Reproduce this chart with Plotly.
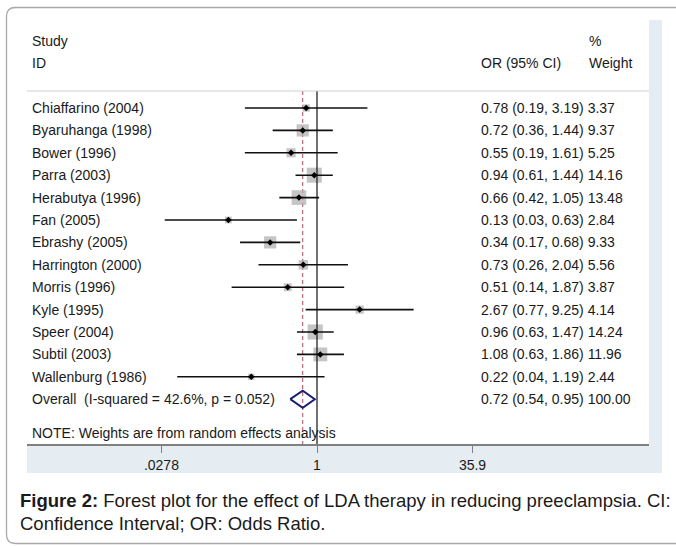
import math
import plotly.graph_objects as go

# ---- data -------------------------------------------------------------
studies = ["Chiaffarino (2004)", "Byaruhanga (1998)", "Bower (1996)", "Parra (2003)",
           "Herabutya (1996)", "Fan (2005)", "Ebrashy (2005)", "Harrington (2000)",
           "Morris (1996)", "Kyle (1995)", "Speer (2004)", "Subtil (2003)",
           "Wallenburg (1986)"]
odds_ratio = [0.78, 0.72, 0.55, 0.94, 0.66, 0.13, 0.34, 0.73, 0.51, 2.67, 0.96, 1.08, 0.22]
ci_low = [0.19, 0.36, 0.19, 0.61, 0.42, 0.03, 0.17, 0.26, 0.14, 0.77, 0.63, 0.63, 0.04]
ci_high = [3.19, 1.44, 1.61, 1.44, 1.05, 0.63, 0.68, 2.04, 1.87, 9.25, 1.47, 1.86, 1.19]
weights = [3.37, 9.37, 5.25, 14.16, 13.48, 2.84, 9.33, 5.56, 3.87, 4.14, 14.24, 11.96, 2.44]

overall_label = "Overall  (I-squared = 42.6%, p = 0.052)"
overall_or = 0.72
overall_low = 0.54
overall_high = 0.95
overall_weight = 100.00

tick_values = [0.0278, 1, 35.9]
tick_labels = [".0278", "1", "35.9"]

note_text = "NOTE: Weights are from random effects analysis"
caption_1 = "<b>Figure 2:</b> Forest plot for the effect of LDA therapy in reducing preeclampsia. CI:"
caption_2 = "Confidence Interval; OR: Odds Ratio."

# ---- layout geometry (pixels) ----------------------------------------
W, H = 676, 546
L, R, T, B = 27, 649, 20, 444
ROW0, ROW_STEP = 108, 22.4


def px(x):
    return (x - L) / (R - L)


def py(y):
    return (B - y) / (B - T)


def row_of(y):
    return (y - ROW0) / ROW_STEP


rows = list(range(len(studies)))
overall_row = len(studies)
sep_row = row_of(91)
bottom_row = row_of(B)
top_row = row_of(T)

FONT = "Liberation Sans, Arial, Helvetica, sans-serif"
TXT = "#1a1a1a"

fig = go.Figure()

# pooled-estimate reference line (dashed)
fig.add_trace(go.Scatter(x=[overall_or, overall_or], y=[sep_row, bottom_row], mode="lines",
                         line=dict(color="#b04a5c", width=1, dash="4px,3px"),
                         hoverinfo="skip", showlegend=False))

# weight boxes: area proportional to weight
fig.add_trace(go.Scatter(x=odds_ratio, y=rows, mode="markers",
                         marker=dict(symbol="square", color="#adadad",
                                     size=[4.0 * math.sqrt(w) for w in weights],
                                     line=dict(width=0)),
                         hoverinfo="skip", showlegend=False))

# line of no effect
fig.add_trace(go.Scatter(x=[1, 1], y=[sep_row, bottom_row], mode="lines",
                         line=dict(color="#111111", width=1.2),
                         hoverinfo="skip", showlegend=False))

# confidence intervals
ci_x, ci_y = [], []
for lo, hi, r in zip(ci_low, ci_high, rows):
    ci_x += [lo, hi, None]
    ci_y += [r, r, None]
fig.add_trace(go.Scatter(x=ci_x, y=ci_y, mode="lines",
                         line=dict(color="#111111", width=1.6),
                         hoverinfo="skip", showlegend=False))

# point estimates
fig.add_trace(go.Scatter(x=odds_ratio, y=rows, mode="markers",
                         marker=dict(symbol="diamond", color="#000000", size=5),
                         hoverinfo="skip", showlegend=False))

# overall diamond
dh = 0.38
fig.add_trace(go.Scatter(x=[overall_low, overall_or, overall_high, overall_or, overall_low],
                         y=[overall_row, overall_row - dh, overall_row, overall_row + dh, overall_row],
                         mode="lines", line=dict(color="#1b1f72", width=2),
                         hoverinfo="skip", showlegend=False))

# ---- text columns -----------------------------------------------------
ann = []


def text(x, y, s, yref="y", size=14, anchor="left"):
    ann.append(dict(x=x, y=y, xref="paper", yref=yref, text=s, showarrow=False,
                    xanchor=anchor, yanchor="middle",
                    font=dict(family=FONT, size=size, color=TXT)))


text(px(30), row_of(41), "Study")
text(px(30), row_of(63), "ID")
text(px(479), row_of(63), "OR (95% CI)")
text(px(587), row_of(41), "%")
text(px(587), row_of(63), "Weight")

for name, o, lo, hi, w, r in zip(studies, odds_ratio, ci_low, ci_high, weights, rows):
    text(px(30), r, name)
    text(px(479), r, f"{o:.2f} ({lo:.2f}, {hi:.2f}) {w:.2f}")

text(px(30), overall_row, overall_label)
text(px(479), overall_row,
     f"{overall_or:.2f} ({overall_low:.2f}, {overall_high:.2f}) {overall_weight:.2f}")
text(px(30), row_of(433), note_text)

text(px(18), py(500), caption_1, yref="paper", size=18.5)
text(px(18), py(523), caption_2, yref="paper", size=18.5)

# ---- decorative shapes ------------------------------------------------
shapes = []
band = "#e5edf2"
shapes.append(dict(type="rect", xref="paper", yref="paper", layer="below",
                   x0=px(649), x1=px(662), y0=py(20), y1=py(444),
                   fillcolor=band, line=dict(width=0)))
shapes.append(dict(type="rect", xref="paper", yref="paper", layer="below",
                   x0=px(27), x1=px(662), y0=py(444), y1=py(473),
                   fillcolor=band, line=dict(width=0)))
# header separator
shapes.append(dict(type="line", xref="paper", yref="paper",
                   x0=px(27), x1=px(649), y0=py(91), y1=py(91),
                   line=dict(color="#cfcfcf", width=1)))
# outer rounded frame
fx0, fx1, fy0, fy1, rad = 6.5, 700, 7.5, 543.5, 9
frame = (f"M {px(fx1)},{py(fy0)} L {px(fx0 + rad)},{py(fy0)} "
         f"Q {px(fx0)},{py(fy0)} {px(fx0)},{py(fy0 + rad)} "
         f"L {px(fx0)},{py(fy1 - rad)} "
         f"Q {px(fx0)},{py(fy1)} {px(fx0 + rad)},{py(fy1)} "
         f"L {px(fx1)},{py(fy1)}")
shapes.append(dict(type="path", xref="paper", yref="paper", path=frame,
                   line=dict(color="#a8a8a8", width=1.3)))

fig.update_layout(
    width=W, height=H,
    margin=dict(l=L, r=W - R, t=T, b=H - B, pad=0),
    paper_bgcolor="white", plot_bgcolor="white",
    showlegend=False,
    annotations=ann, shapes=shapes,
    xaxis=dict(type="log", range=[math.log10(1) - 2.90, math.log10(1) + 3.32],
               tickvals=tick_values, ticktext=tick_labels,
               ticks="outside", ticklen=7, tickwidth=1, tickcolor="#808080",
               showline=True, linecolor="#808080", linewidth=1.5,
               showgrid=False, zeroline=False, fixedrange=True,
               tickfont=dict(family=FONT, size=14, color=TXT)),
    yaxis=dict(range=[bottom_row, top_row], visible=False, fixedrange=True),
)

fig.write_html("out.html")
